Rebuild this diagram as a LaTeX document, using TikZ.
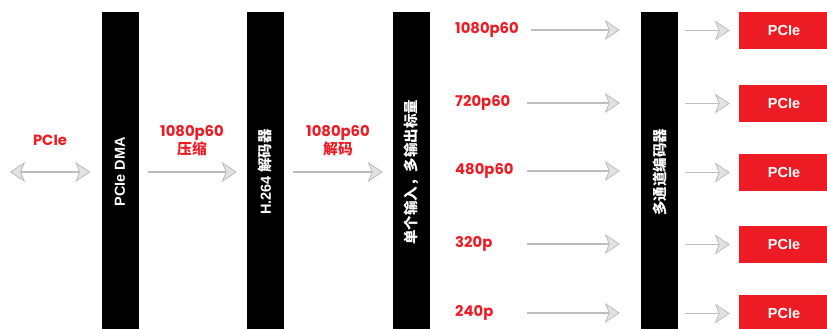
\documentclass[tikz,border=0pt]{standalone}
\usepackage{fontspec}
\usepackage{graphicx}
\setmainfont{Poppins}
\newfontfamily\cjk{Noto Sans CJK SC}
\newfontfamily\sans{Liberation Sans}[BoldFont={Liberation Sans Bold}]
\usetikzlibrary{arrows.meta,calc}
\definecolor{hired}{HTML}{ED1C24}
\definecolor{linegray}{HTML}{BDBDBD}
\definecolor{headgray}{HTML}{E2E2E2}

\begin{document}
\begin{tikzpicture}[x=1pt,y=-1pt]
\tikzset{bar/.style={fill=black, text=white, minimum width=37pt, minimum height=320pt, inner sep=0pt, font=\cjk\bfseries\fontsize{14.5}{15}\selectfont}}
\tikzset{outbox/.style={fill=hired, text=white, minimum width=90pt, minimum height=37pt, inner sep=0pt, font=\sans\bfseries\fontsize{14.5}{15}\selectfont}}
\tikzset{rate/.style={text=hired, align=center, inner sep=0pt, font=\bfseries\fontsize{14.8}{18}\selectfont}}
\tikzset{arr/.style={draw=linegray, line width=1.4pt, -{Stealth[length=15pt, width=20pt, inset=4pt, fill=headgray, line width=0.8pt]}}}
\tikzset{dbl/.style={arr, {Stealth[length=15pt, width=20pt, inset=4pt, fill=headgray, line width=0.8pt]}-{Stealth[length=15pt, width=20pt, inset=4pt, fill=headgray, line width=0.8pt]}}}
\useasboundingbox (0,0) rectangle (827,329);

\node[bar] (dma) at (120,172) {\rotatebox{90}{\sans\bfseries PCIe DMA}};
\node[bar] (dec) at (265.5,172) {\rotatebox{90}{{\sans\bfseries H.264} 解码器}};
\node[bar] (scl) at (411.5,172) {\rotatebox{90}{单个输入，多输出标量}};
\node[bar] (enc) at (659.5,172) {\rotatebox{90}{多通道编码器}};

\coordinate (host) at (10,172);
\node[rate] (pcie) at (50,140) {PCIe};
\node[rate] (cmp) at (192,141) {1080p60\\{\cjk 压缩}};
\node[rate] (dcd) at (338,141) {1080p60\\{\cjk 解码}};

\draw[dbl] (host) -- ($(dma.west)+(-11,0)$);
\draw[arr] ($(dma.east)+(9,0)$) -- ($(dec.west)+(-10,0)$);
\draw[arr] ($(dec.east)+(9,0)$) -- ($(scl.west)+(-10,0)$);

\node[rate, anchor=west] (r1) at (455,30) {1080p60};
\node[rate, anchor=west] (r2) at (455,103) {720p60};
\node[rate, anchor=west] (r3) at (455,171) {480p60};
\node[rate, anchor=west] (r4) at (455,244) {320p};
\node[rate, anchor=west] (r5) at (455,313) {240p};

\node[outbox] (o1) at (784,30.5) {PCIe};
\node[outbox] (o2) at (784,103.5) {PCIe};
\node[outbox] (o3) at (784,172.5) {PCIe};
\node[outbox] (o4) at (784,244.5) {PCIe};
\node[outbox] (o5) at (784,313.5) {PCIe};

\draw[arr] (531,30) -- ($(r1 -| enc.west)+(-21,0)$);
\foreach \i in {2,...,5}
  \draw[arr] ($(r\i -| enc.west)+(-114,0)$) -- ($(r\i -| enc.west)+(-21,0)$);
\foreach \i in {1,...,5}
  \draw[arr] ($(o\i -| enc.east)+(7,0)$) -- ($(o\i.west)+(-9,0)$);
\end{tikzpicture}
\end{document}
